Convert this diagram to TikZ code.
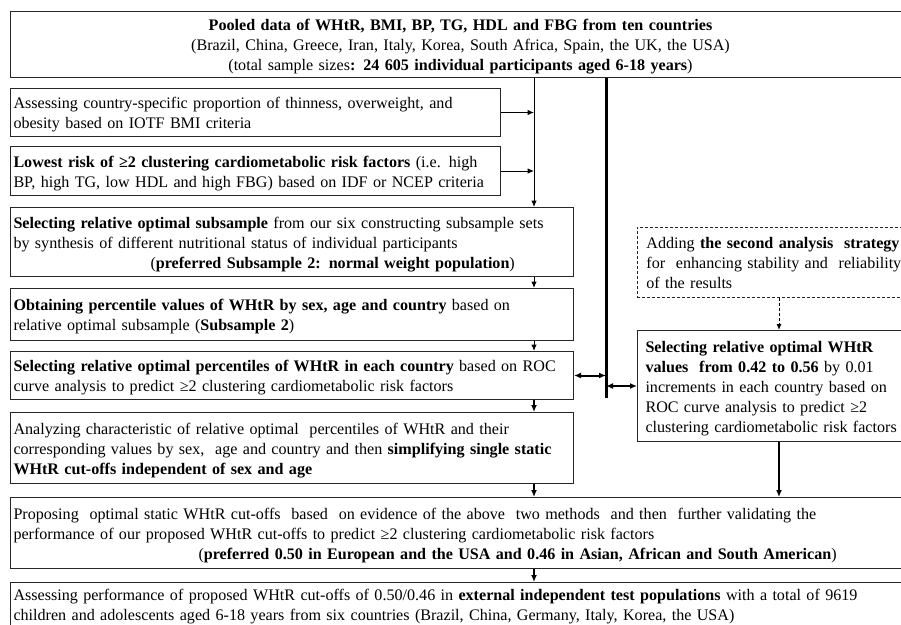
\documentclass[tikz,border=0pt]{standalone}
\usepackage{fontspec}
\setmainfont{Liberation Serif}
\usetikzlibrary{arrows.meta}
\newcommand\fs{\fontsize{16.1}{20}\selectfont}
\newcommand\Fst{\rule{0pt}{17pt}}
\newcommand\Lst{\rule[-5pt]{0pt}{5pt}}
\begin{document}
\begin{tikzpicture}[x=1pt,y=-1pt,
  bx/.style={draw=black!85, line width=1pt, anchor=north west, align=left, inner xsep=3pt, inner ysep=0pt, font=\fs},
  dbx/.style={bx, dashed, dash pattern=on 3pt off 2pt, line width=0.8pt, inner xsep=9pt},
  thin/.style={line width=1pt, -{Latex[length=6.5pt,width=5.5pt]}},
  thick/.style={line width=2pt, -{Latex[length=7pt,width=6pt]}},
  dbl/.style={line width=2pt, {Latex[length=7pt,width=6pt]}-{Latex[length=7pt,width=6pt]}},
]
\useasboundingbox (0,0) rectangle (901,624);
\fill[white] (0,0) rectangle (901,624);

\node[bx, align=center, text width=894pt, minimum height=66pt] (top) at (10,11)
 {\Fst\textbf{Pooled data of WHtR, BMI, BP, TG, HDL and FBG from ten countries}\\
  (Brazil, China, Greece, Iran, Italy, Korea, South Africa, Spain, the UK, the USA)\\
  (total sample sizes\textbf{: 24 605 individual participants aged 6-18 years})\Lst};

\node[bx, text width=484pt, minimum height=48pt] (b1) at (10,88)
 {\Fst\mbox{Assessing country-specific proportion of thinness, overweight, and}\\
  \mbox{obesity based on IOTF BMI criteria}\Lst};

\node[bx, text width=484pt, minimum height=49pt] (b2) at (10,146)
 {\Fst\mbox{\textbf{Lowest risk of ≥2 clustering cardiometabolic risk factors} (i.e. high}\\
  \mbox{BP, high TG, low HDL and high FBG) based on IDF or NCEP criteria}\Lst};

\node[bx, text width=557pt, minimum height=69pt] (b3) at (10,207)
 {\Fst\mbox{\textbf{Selecting relative optimal subsample} from our six constructing subsample sets}\\
  \mbox{by synthesis of different nutritional status of individual participants}\\
  \hspace*{137pt}\mbox{(\textbf{preferred Subsample 2: normal weight population})}\Lst};

\node[bx, text width=557pt, minimum height=52pt] (b4) at (10,288)
 {\Fst\mbox{\textbf{Obtaining percentile values of WHtR by sex, age and country} based on}\\
  \mbox{relative optimal subsample (\textbf{Subsample 2})}\Lst};

\node[bx, text width=557pt, minimum height=48pt] (b5) at (10,351)
 {\Fst\mbox{\textbf{Selecting relative optimal percentiles of WHtR in each country} based on ROC}\\
  \mbox{curve analysis to predict ≥2 clustering cardiometabolic risk factors}\Lst};

\node[bx, text width=557pt, minimum height=71pt] (b6) at (10,412)
 {\Fst\mbox{Analyzing characteristic of relative optimal\ \ percentiles of WHtR and their}\\
  \mbox{corresponding values by sex,\ \ age and country and then \textbf{simplifying single static}}\\
  \mbox{\textbf{WHtR cut-offs independent of sex and age}}\Lst};

\node[bx, text width=899pt, minimum height=71pt] (b7) at (10,497)
 {\Fst\mbox{Proposing\ \ optimal static WHtR cut-offs\ \ based\ \ on evidence of the above\ \ two methods\ \ and then\ \ further validating the}\\
  \mbox{performance of our proposed WHtR cut-offs to predict ≥2 clustering cardiometabolic risk factors}\\
  \hspace*{185pt}\mbox{(\textbf{preferred 0.50 in European and the USA and 0.46 in Asian, African and South American})}\Lst};

\node[bx, text width=899pt, minimum height=44pt] (b8) at (10,582)
 {\Fst\mbox{Assessing performance of proposed WHtR cut-offs of 0.50/0.46 in \textbf{external independent test populations} with a total of 9619}\\
  \mbox{children and adolescents aged 6-18 years from six countries (Brazil, China, Germany, Italy, Korea, the USA)}\Lst};

\node[dbx, text width=260pt, minimum height=70pt] (d) at (637,227)
 {\Fst\mbox{Adding \textbf{the second analysis\ \ strategy}}\\
  \mbox{for\ \ enhancing stability and\ \ reliability}\\
  \mbox{of the results}\Lst};

\node[bx, inner xsep=8pt, text width=262pt, minimum height=111pt] (r) at (637,330)
 {\Fst\mbox{\textbf{Selecting relative optimal WHtR}}\\
  \mbox{\textbf{values\ \ from 0.42 to 0.56} by 0.01}\\
  \mbox{increments in each country based on}\\
  \mbox{ROC curve analysis to predict ≥2}\\
  \mbox{clustering cardiometabolic risk factors}\Lst};

\coordinate (spine) at (534,0);
\coordinate (tend) at (606,398);
\coordinate (rx) at (779,0);

% thin spine
\draw[thin] (spine |- top.south) -- (spine |- b3.north);
\draw[thin] (b1.east) -- (spine |- b1.east);
\draw[thin] (b2.east) -- (spine |- b2.east);
\draw[thin] (spine |- b3.south) -- (spine |- b4.north);
\draw[thin] (spine |- b4.south) -- (spine |- b5.north);
\draw[thick] (spine |- b5.south) -- (spine |- b6.north);
\draw[thick] (spine |- b6.south) -- (spine |- b7.north);
\draw[thick] (spine |- b7.south) -- (spine |- b8.north);

% thick trunk
\draw[line width=3pt] (tend |- top.south) -- (tend);
\draw[dbl] (b5.east) -- (tend |- b5.east);
\draw[dbl] (tend |- r.west) -- (r.west);

% right column
\draw[line width=1pt, dashed, dash pattern=on 3pt off 2pt, -{Latex[length=6pt,width=5pt]}] (rx |- d.south) -- (rx |- r.north);
\draw[thick] (rx |- r.south) -- (rx |- b7.north);
\end{tikzpicture}
\end{document}
